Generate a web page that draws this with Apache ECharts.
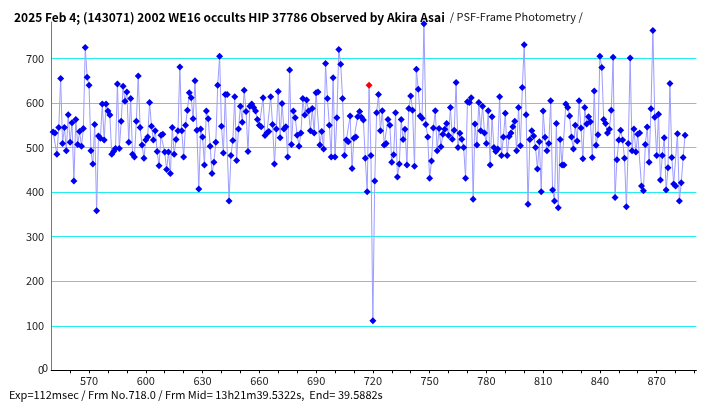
<!DOCTYPE html>
<html>
<head>
<meta charset="utf-8">
<script src="https://cdn.jsdelivr.net/npm/echarts@6/dist/echarts.min.js"></script>
<style>html,body{margin:0;padding:0;background:#fff}#c{width:707px;height:405px}</style>
</head>
<body>
<div id="c"></div>
<script>
const startFrame = 551;
const values = [
535,533,485,545,655,509,545,493,574,512,
556,425,563,507,536,503,543,725,658,640,
493,463,552,358,526,521,598,517,598,582,
573,485,491,498,643,498,559,638,604,625,
512,610,485,479,559,661,545,506,476,517,
524,601,548,517,538,491,459,528,530,490,
451,490,442,545,485,518,538,681,538,479,
550,584,623,612,565,650,539,407,542,524,
461,582,565,503,442,467,512,640,705,548,
488,619,619,380,482,516,614,471,542,593,
557,629,581,491,593,598,590,582,563,550,
547,612,527,533,536,614,552,463,542,626,
522,599,542,547,479,674,507,582,567,528,
503,533,610,573,607,582,538,588,533,623,
625,506,536,497,689,610,550,479,657,479,
567,720,687,610,482,517,513,571,453,521,
524,569,581,568,562,476,401,640,482,111,
425,578,619,538,583,506,509,563,550,467,
484,578,434,463,563,518,541,461,588,616,
584,458,676,631,571,566,778,552,524,431,
470,544,583,493,543,502,530,541,554,527,
590,519,539,646,500,532,519,500,431,603,
601,612,384,553,506,601,538,593,533,509,
583,461,569,500,491,497,614,482,524,577,
482,525,533,547,559,493,590,504,635,731,
574,373,518,538,526,500,452,513,401,582,
523,493,509,605,405,380,554,365,518,461,
461,598,590,571,524,497,550,515,605,544,
475,590,553,569,558,478,627,505,529,705,
680,563,554,533,541,584,703,388,473,517,
539,517,476,367,509,701,493,542,490,530,
533,414,403,507,546,467,587,763,568,482,
575,427,482,522,405,455,644,478,418,414,
531,380,421,478,528
];
const highlightFrame = 718;
const xLabelTicks = [570,600,630,660,690,720,750,780,810,840,870];
const yTicks = [0,100,200,300,400,500,600,700];
const titleBold = '2025 Feb 4; (143071) 2002 WE16 occults HIP 37786 Observed by Akira Asai';
const titleNormal = '/ PSF-Frame Photometry /';
const footer = 'Exp=112msec / Frm No.718.0 / Frm Mid= 13h21m39.5322s,  End= 39.5882s';

const data = values.map((v, i) => {
  const f = startFrame + i;
  const p = { value: [f, v] };
  if (f === highlightFrame) p.itemStyle = { color: '#ff0000' };
  return p;
});

const chart = echarts.init(document.getElementById('c'), null, { renderer: 'canvas' });
const font = "'Noto Sans CJK JP', 'DejaVu Sans', sans-serif";
chart.setOption({
  animation: false,
  backgroundColor: '#ffffff',
  title: {
    left: 9, top: 3,
    text: '{b|' + titleBold + '} {n|' + titleNormal + '}',
    textStyle: {
      fontWeight: 'normal',
      rich: {
        b: { fontFamily: font, fontWeight: 'bold', fontSize: 12, color: '#000' },
        n: { fontFamily: font, fontWeight: 'normal', fontSize: 11, color: '#111' }
      }
    }
  },
  graphic: [{
    type: 'text', left: 9, top: 389,
    style: { text: footer, fontFamily: font, fontSize: 11, fill: '#000' }
  }],
  grid: { left: 51.2, right: 707 - 696.4, top: 22, bottom: 34.7, containLabel: false },
  xAxis: {
    type: 'value', min: 550, max: 891, interval: 10,
    axisLine: { show: true, onZero: false, lineStyle: { color: '#000', width: 1 } },
    axisTick: { show: true, length: 3, lineStyle: { color: '#000' } },
    axisLabel: {
      color: '#222', fontFamily: font, fontSize: 11, margin: 5,
      showMaxLabel: false, showMinLabel: false,
      formatter: v => xLabelTicks.includes(v) ? String(v) : ''
    },
    splitLine: { show: false }
  },
  yAxis: {
    type: 'value', min: 0, max: 782, interval: 100,
    axisLine: { show: true, lineStyle: { color: '#777', width: 1 } },
    axisTick: { show: false },
    axisLabel: {
      color: '#222', fontFamily: font, fontSize: 11, margin: 7,
      showMaxLabel: false, showMinLabel: true,
      formatter: v => yTicks.includes(v) ? String(v) : ''
    },
    splitLine: { show: true, showMinLine: false, showMaxLine: false, lineStyle: { color: '#22eef0', width: 1 } }
  },
  series: [{
    type: 'line',
    data: data,
    symbol: 'diamond',
    symbolSize: [7, 7],
    showAllSymbol: true,
    itemStyle: { color: '#0000f0' },
    lineStyle: { color: '#9d9dff', width: 1 },
    clip: false,
    z: 3
  }]
});

// y-axis "0" label (hidden by the library at the axis crossing) placed at the axis' own 0 position
const zeroPos = chart.convertToPixel({ gridIndex: 0 }, [550, yTicks[0]]);
chart.setOption({
  graphic: [{
    type: 'text', left: 9, top: 389,
    style: { text: footer, fontFamily: font, fontSize: 11, fill: '#000' }
  }, {
    type: 'text', x: zeroPos[0] - 3, y: zeroPos[1] - 2,
    style: { text: String(yTicks[0]), fontFamily: font, fontSize: 11, fill: '#222', align: 'right', verticalAlign: 'middle' }
  }]
});
</script>
</body>
</html>
